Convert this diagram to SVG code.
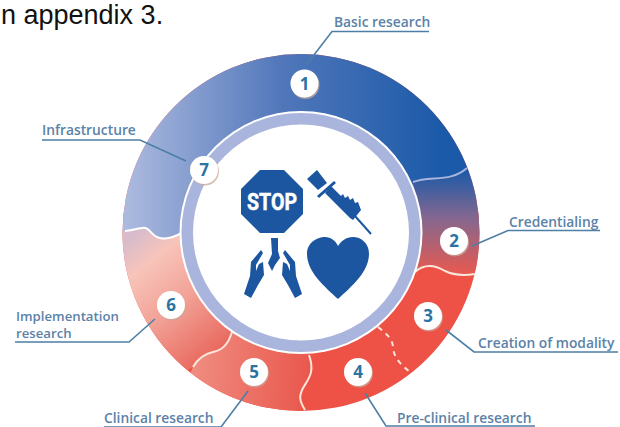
<svg xmlns="http://www.w3.org/2000/svg" width="620" height="427" viewBox="0 0 620 427">
<style>
.lab{font-family:"Open Sans","Noto Sans",sans-serif;font-size:13.8px;font-weight:600;fill:#5b82a8}
.num{font-family:"Open Sans","Noto Sans",sans-serif;font-size:17px;font-weight:700;fill:#2b73a3;text-anchor:middle}
.lead{fill:none;stroke:#4d7fa6;stroke-width:1.6}
.badge{fill:#fff}
.shadow{fill:#c9a898;opacity:.75}
.sep{fill:none;stroke:#fbe6dc;stroke-width:2}
.ic{fill:#1c56a0}
</style>
<defs>
<clipPath id="ringClip"><circle cx="301" cy="232.500" r="178.500"/></clipPath>
<linearGradient id="gBlue" gradientUnits="userSpaceOnUse" x1="123" y1="0" x2="440" y2="0"><stop offset="0" stop-color="#aebbdf"/><stop offset="0.5" stop-color="#5177ba"/><stop offset="1" stop-color="#1b5aa8"/></linearGradient>
<linearGradient id="g2" gradientUnits="userSpaceOnUse" x1="0" y1="172" x2="0" y2="275"><stop offset="0" stop-color="#1f5aa8"/><stop offset="0.45" stop-color="#85678f"/><stop offset="1" stop-color="#e9594e"/></linearGradient>
<linearGradient id="g6" gradientUnits="userSpaceOnUse" x1="140" y1="232" x2="232" y2="345"><stop offset="0" stop-color="#d9bccb"/><stop offset="0.2" stop-color="#f8c4ba"/><stop offset="0.55" stop-color="#f2a196"/><stop offset="1" stop-color="#e8655a"/></linearGradient>
<linearGradient id="g5" gradientUnits="userSpaceOnUse" x1="195" y1="370" x2="310" y2="380"><stop offset="0" stop-color="#f08b7f"/><stop offset="1" stop-color="#e9574c"/></linearGradient>
</defs>
<rect width="620" height="427" fill="#fff"/>
<text x="1" y="24" font-family="'Liberation Sans',Arial,sans-serif" font-size="27" fill="#111">n appendix 3.</text>
<g id="ring">
<g clip-path="url(#ringClip)">
<rect x="110" y="40" width="380" height="380" fill="#ee5246"/>
<path fill="url(#gBlue)" d="M110 40H490V160L467 168C450 183 430 175 413 182L301 232L182 233C175 236 168 240 160 238C150 236 150 226 142 228C135 229 130 232 110 231Z"/>
<path fill="url(#g2)" d="M413 182C430 175 450 183 467 168L490 160V274H475C462 276 453 275 445 271C435 265 425 263 415 272L301 232Z"/>
<path fill="url(#g6)" d="M110 231C130 232 135 229 142 228C150 226 150 236 160 238C168 240 175 236 182 233L301 232L232 332C228 345 222 350 213 352C204 354 197 360 193 367L110 420Z"/>
<path fill="url(#g5)" d="M232 332C228 345 222 350 213 352C204 354 197 360 193 367L170 420H305C299 400 299 396 303 388C309 378 315 372 309 355L301 232Z"/>
</g>
<path class="sep" style="stroke:#a8b5dc" d="M413 182C430 175 450 183 467 168"/>
<path class="sep" d="M415 272C425 263 435 265 445 271C453 275 462 276 475 274"/>
<path class="sep" stroke-dasharray="5 5" d="M378 327C388 335 393 340 393 348C394 358 402 366 410 372"/>
<path class="sep" d="M309 355C315 372 309 378 303 388C299 396 299 400 305 410"/>
<path class="sep" d="M232 332C228 345 222 350 213 352C204 354 197 360 193 367"/>
<path class="sep" style="stroke:#fff" d="M125 231C130 231 135 229 142 228C150 226 150 236 160 238C168 240 175 236 182 233"/>
<circle cx="301" cy="232.500" r="121.500" fill="#fff"/>
<circle cx="301" cy="232.500" r="119.500" fill="#a9b5dc"/>
<circle cx="301" cy="232.500" r="108" fill="#fff"/>
</g>
<g id="icons">
<g id="stop"><polygon class="ic" points="260,170 284,170 303,189 303,214 284,233 260,233 241,214 241,189"/><text x="272" y="210" font-family="'Liberation Sans Narrow','Roboto',sans-serif" font-size="24" font-weight="700" fill="#fff" stroke="#fff" stroke-width=".5" text-anchor="middle" textLength="50" lengthAdjust="spacingAndGlyphs">STOP</text></g>
<g id="syringe"><path class="ic" d="M307 179L317 170L327 183L318 190Z"/><path class="ic" d="M317 196L334 181L336 183L319 198Z"/><path class="ic" d="M325 193L331 186L341 196L343 194L345 198L348 196L350 200L353 198L355 203L358 202L361 210L353 220L350 218Z"/><path fill="none" stroke="#1c56a0" stroke-width="2" d="M355 216L371 234"/></g>
<g id="heart"><path class="ic" d="M338 299C325 287 307 272 307 254C307 242 318 237 325 237C331 237 336 241 338 246C341 241 346 237 353 237C361 237 369 243 369 254C369 272 351 287 338 299Z"/></g>
<g id="hands"><path id="hl" class="ic" d="M244 294L250 276L251 262L261 250L263 253L256 265L256 271L259 264L263 262L264 275L258 285L251 298Z"/><path id="hr" class="ic" d="M302 294L296 276L295 262L285 250L283 253L290 265L290 271L287 264L283 262L282 275L288 285L295 298Z"/><path class="ic" d="M271 238H278V251L280 258L275 265L272 271L268 263L272 254Z"/></g>
</g>
<g id="connectors">
<path class="lead" d="M307 64L332 31.500H429"/>
<path class="lead" d="M472 246L508 230.500H600"/>
<path class="lead" d="M446 330L474 352H618"/>
<path class="lead" d="M365 393L386 426H535"/>
<path class="lead" d="M248 391L221 427H104"/>
<path class="lead" d="M155 319L129 342H15"/>
<path class="lead" d="M186 161L140 140H42"/>
</g>
<g id="n1"><circle class="shadow" cx="305.500" cy="85" r="14"/><circle class="badge" cx="304.500" cy="83.500" r="14"/><text class="num" x="304.500" y="89.500">1</text></g>
<g id="n2"><circle class="shadow" cx="455" cy="242.500" r="14"/><circle class="badge" cx="454" cy="241" r="14"/><text class="num" x="454" y="247">2</text></g>
<g id="n3"><circle class="shadow" cx="429" cy="317.500" r="14"/><circle class="badge" cx="428" cy="316" r="14"/><text class="num" x="428" y="322">3</text></g>
<g id="n4"><circle class="shadow" cx="359" cy="373.500" r="14"/><circle class="badge" cx="358" cy="372" r="14"/><text class="num" x="358" y="378">4</text></g>
<g id="n5"><circle class="shadow" cx="255" cy="373.500" r="14"/><circle class="badge" cx="254" cy="372" r="14"/><text class="num" x="254" y="378">5</text></g>
<g id="n6"><circle class="shadow" cx="172" cy="306.500" r="14"/><circle class="badge" cx="171" cy="305" r="14"/><text class="num" x="171" y="311">6</text></g>
<g id="n7"><circle class="shadow" cx="205" cy="171.500" r="14"/><circle class="badge" cx="204" cy="170" r="14"/><text class="num" x="204" y="176">7</text></g>
<g id="labels">
<text class="lab" x="334" y="27">Basic research</text>
<text class="lab" x="509" y="227">Credentialing</text>
<text class="lab" x="478" y="348">Creation of modality</text>
<text class="lab" x="397" y="423">Pre-clinical research</text>
<text class="lab" x="104" y="423">Clinical research</text>
<text class="lab" style="font-size:13.2px" x="16" y="320.500"><tspan x="16">Implementation</tspan><tspan x="16" dy="17.500">research</tspan></text>
<text class="lab" x="42" y="135">Infrastructure</text>
</g>
</svg>
